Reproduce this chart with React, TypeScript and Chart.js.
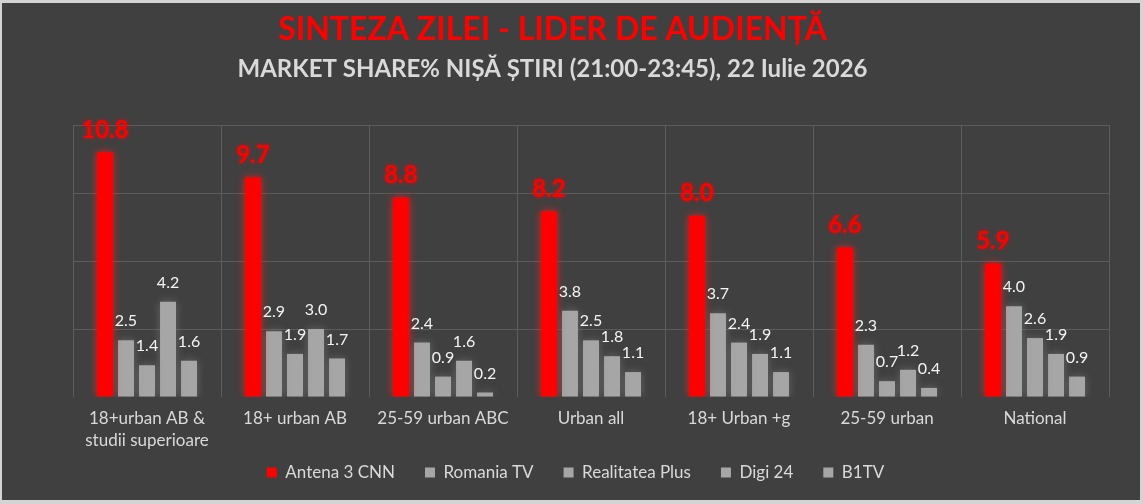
import React, { useEffect, useRef } from 'react';
import { Chart, registerables } from 'chart.js';

Chart.register(...registerables);

const categories: (string | string[])[] = [
  ['18+urban AB &', 'studii superioare'],
  '18+ urban AB',
  '25-59 urban ABC',
  'Urban all',
  '18+ Urban +g',
  '25-59 urban',
  'National',
];
const seriesNames = ['Antena 3 CNN', 'Romania TV', 'Realitatea Plus', 'Digi 24', 'B1TV'];
const antena3 = [10.8, 9.7, 8.8, 8.2, 8.0, 6.6, 5.9];
const romaniaTv = [2.5, 2.9, 2.4, 3.8, 3.7, 2.3, 4.0];
const realitateaPlus = [1.4, 1.9, 0.9, 2.5, 2.4, 0.7, 2.6];
const digi24 = [4.2, 3.0, 1.6, 1.8, 1.9, 1.2, 1.9];
const b1tv = [1.6, 1.7, 0.2, 1.1, 1.1, 0.4, 0.9];
const yMax = 12;
const yStep = 3;

const titleText = 'SINTEZA ZILEI - LIDER DE AUDIENȚĂ';
const subtitleText = 'MARKET SHARE% NIȘĂ ȘTIRI (21:00-23:45), 22 Iulie 2026';

const RED = '#ff0000';
const GREY = '#a6a6a6';
const BG = '#404040';
const GRID = '#5c5c5c';
const TEXT = '#d9d9d9';
const FONT = 'Lato';

const bgPlugin = {
  id: 'bgPlugin',
  beforeDraw(chart: any) {
    const { ctx, width, height } = chart;
    ctx.save();
    ctx.fillStyle = '#d4d4d4';
    ctx.fillRect(0, 0, width, height);
    ctx.fillStyle = BG;
    ctx.fillRect(2, 3, width - 5, height - 7);
    ctx.restore();
  },
};

// nudges the title block and legend to where the reference places them
const placePlugin = {
  id: 'placePlugin',
  afterLayout(chart: any) {
    chart.boxes.forEach((b: any) => {
      if (b.options && (b.options.text === titleText || b.options.text === subtitleText)) {
        b.left -= 19;
        b.right -= 19;
      }
    });
    const lg = chart.legend;
    if (lg) {
      lg.top -= 17;
      lg.bottom -= 17;
      lg.left += 4;
      lg.right += 4;
    }
  },
};

const glowPlugin = {
  id: 'glowPlugin',
  beforeDatasetDraw(chart: any, args: any) {
    const ctx = chart.ctx;
    ctx.save();
    if (args.index === 0) {
      ctx.shadowColor = 'rgba(255,30,30,0.8)';
      ctx.shadowBlur = 8;
    } else {
      ctx.shadowColor = 'rgba(130,130,130,0.6)';
      ctx.shadowBlur = 8;
    }
  },
  afterDatasetDraw(chart: any) {
    chart.ctx.restore();
  },
};

const labelPlugin = {
  id: 'labelPlugin',
  afterDatasetsDraw(chart: any) {
    const ctx = chart.ctx;
    chart.data.datasets.forEach((ds: any, di: number) => {
      const meta = chart.getDatasetMeta(di);
      meta.data.forEach((el: any, i: number) => {
        const v = ds.data[i] as number;
        ctx.save();
        ctx.textAlign = 'center';
        ctx.textBaseline = 'middle';
        let y;
        if (di === 0) {
          ctx.font = `bold 24px ${FONT}`;
          ctx.fillStyle = RED;
          ctx.shadowColor = 'rgba(255,0,0,0.7)';
          ctx.shadowBlur = 4;
          y = el.y - 22;
        } else {
          ctx.font = `16px ${FONT}`;
          ctx.fillStyle = '#f4f4f4';
          y = el.y - 19;
        }
        ctx.fillText(v.toFixed(1), el.x, y);
        ctx.restore();
      });
    });
  },
};

export default function App() {
  const ref = useRef<HTMLCanvasElement | null>(null);

  useEffect(() => {
    document.body.style.margin = '0';
    const canvas = ref.current;
    if (!canvas) return;
    const seriesData = [antena3, romaniaTv, realitateaPlus, digi24, b1tv];
    const chart = new Chart(canvas, {
      type: 'bar',
      data: {
        labels: categories,
        datasets: seriesNames.map((name, i) => ({
          label: name,
          data: seriesData[i],
          backgroundColor: i === 0 ? RED : GREY,
          borderWidth: 0,
          categoryPercentage: 0.71,
          barPercentage: 0.76,
        })),
      },
      options: {
        responsive: false,
        animation: false,
        layout: { padding: { left: 34, right: 34, top: 0, bottom: -4 } },
        plugins: {
          title: {
            display: true,
            text: titleText,
            color: RED,
            font: { family: FONT, size: 32, weight: 'bold' },
            padding: { top: 10.8, bottom: 0 },
          },
          subtitle: {
            display: true,
            text: subtitleText,
            color: TEXT,
            font: { family: FONT, size: 24, weight: 'bold' },
            padding: { top: 5.4, bottom: 41.6 },
          },
          legend: {
            position: 'bottom',
            labels: {
              boxWidth: 10,
              boxHeight: 10,
              padding: 30,
              color: TEXT,
              font: { family: FONT, size: 17 },
            },
          },
          tooltip: { enabled: false },
        },
        scales: {
          x: {
            grid: { color: GRID, drawTicks: false, offset: true },
            border: { display: false },
            ticks: {
              color: TEXT,
              font: { family: FONT, size: 17, lineHeight: 1.3 },
              padding: 10,
              maxRotation: 0,
              autoSkip: false,
            },
            afterFit: (s: any) => {
              s.height = 54;
            },
          },
          y: {
            min: 0,
            max: yMax,
            ticks: { display: false, stepSize: yStep },
            grid: {
              drawTicks: false,
              color: (c: any) => (c.tick && c.tick.value === 0 ? 'rgba(0,0,0,0)' : GRID),
            },
            border: { display: false },
            afterFit: (s: any) => {
              s.width = 39;
            },
          },
        },
      },
      plugins: [bgPlugin, placePlugin, glowPlugin, labelPlugin],
    } as any);
    return () => chart.destroy();
  }, []);

  return (
    <div style={{ width: 1143, height: 504 }}>
      <canvas ref={ref} width={1143} height={504} style={{ display: 'block' }} />
    </div>
  );
}
